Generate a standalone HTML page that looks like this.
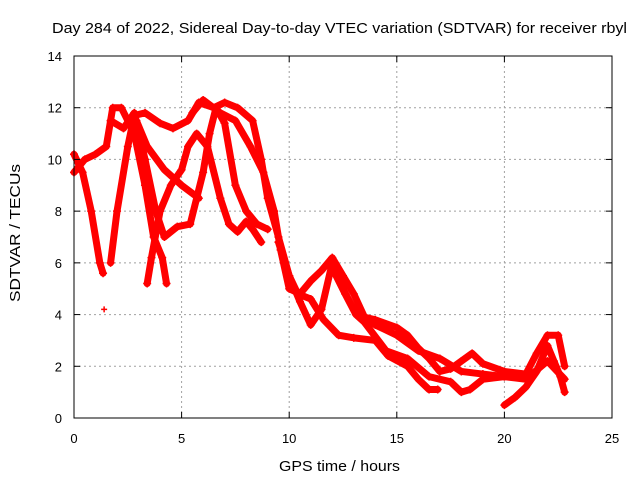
<!DOCTYPE html>
<html><head><meta charset="utf-8"><style>
body{margin:0;background:#fff}
svg{display:block;font-family:"Liberation Sans",sans-serif}
</style></head><body>
<svg id="chart" width="640" height="480" viewBox="0 0 640 480">
<rect width="640" height="480" fill="#fff"/>
<g id="grid"></g>
<g id="series"></g>
<rect x="74" y="56" width="538" height="362" fill="none" stroke="#000" stroke-width="1"/>
<g id="ticks"></g>
<text x="52" y="33" font-size="15" textLength="575" lengthAdjust="spacingAndGlyphs">Day 284 of 2022, Sidereal Day-to-day VTEC variation (SDTVAR) for receiver rbyl</text>
<text x="279" y="471" font-size="15" textLength="121" lengthAdjust="spacingAndGlyphs">GPS time / hours</text>
<text x="0" y="0" font-size="15" textLength="138" lengthAdjust="spacingAndGlyphs" transform="translate(20,302) rotate(-90)">SDTVAR / TECUs</text>
</svg>
<script>
const xTicks=[0,5,10,15,20,25];
const yTicks=[0,2,4,6,8,10,12,14];
const s1=[[0,10.2],[0.4,9.5],[0.8,8],[1.2,6],[1.35,5.6]];
const s2=[[1.7,6],[2.0,8],[2.5,10.5],[2.8,11.7],[3.3,11.8],[4,11.4],[4.6,11.2],[5.3,11.5],[5.8,12.2],[6.5,12],[7,12.2],[7.6,12],[8.3,11.5],[8.7,10],[9,8.5],[9.5,7],[10,5.5],[10.5,4.5],[11,3.6],[11.5,4.2],[12,6],[12.5,5],[13,4.2],[14,3.6],[15,3.2],[16,2.6],[17,2.3],[18,1.8],[19,1.7],[20,1.6],[21,1.5],[22,2.2],[22.8,1.5]];
const s3=[[0,9.5],[0.5,10],[1,10.2],[1.5,10.5],[1.8,12],[2.2,12],[2.8,11],[3.3,9],[3.7,7],[4.1,6.2],[4.3,5.2]];
const s4=[[1.7,11.5],[2.3,11.2],[2.8,11.8],[3.3,10],[3.8,8],[4.2,7],[4.8,7.4],[5.4,7.5],[6,9.5],[6.3,11],[6.6,12],[7,11.4],[7.5,9],[8,8],[8.5,7.5],[9,7.3]];
const s5=[[3.4,5.2],[3.6,6.2],[4,8],[4.5,9],[5,9.6],[5.3,10.5],[5.7,11],[6.2,10.5],[6.8,8.5],[7.2,7.5],[7.6,7.2],[8,7.6],[8.3,7.3],[8.7,6.8]];
const s6=[[2.9,11.5],[3.4,10.5],[4.2,9.6],[5.0,9],[5.8,8.5]];
const s7=[[5.5,11.8],[6,12.3],[6.8,11.8],[7.5,11.5],[8.2,10.5],[8.8,9.5],[9.3,8],[9.6,6.5],[10,5],[10.5,4.8],[11,5.3],[11.5,5.7],[12,6.2],[12.5,5.5],[13,4.8],[13.5,3.9],[14,3.8],[15,3.5],[15.5,3.2],[16,2.7],[16.5,2.3],[17,1.8],[17.5,1.9],[18,2.2],[18.5,2.5],[19,2.1],[20,1.8],[21,1.7],[21.5,2.5],[22,3.2],[22.5,3.2],[22.8,2]];
const s8=[[9.5,6.8],[10,5.5],[10.4,4.8],[11,4.6],[11.6,3.8],[12.3,3.2],[13,3.1],[14,3],[14.6,2.4],[15.5,2],[16,1.5],[16.5,1.1],[16.9,1.1]];
const s9=[[12,5.8],[12.6,4.8],[13.1,4],[13.5,3.7],[14.5,2.6],[15.5,2.3],[16.5,1.6],[17.5,1.4],[18,1.0],[18.4,1.1],[19,1.5],[20,1.6]];
const s10=[[20,0.5],[20.5,0.8],[21,1.2],[21.5,1.8],[22,2.8],[22.3,2.2],[22.6,1.6],[22.8,1]];
const outliers=[[1.4,4.2]];
const allSeries=[s1,s2,s3,s4,s5,s6,s7,s8,s9,s10];
const NS="http://www.w3.org/2000/svg";
const X0=74,X1=612,Y0=418,Y1=56;
function sx(v){return X0+(v-0)/(25-0)*(X1-X0);}
function sy(v){return Y0-(v-0)/(14-0)*(Y0-Y1);}
function mk(t,a,p){const e=document.createElementNS(NS,t);for(const k in a)e.setAttribute(k,a[k]);p.appendChild(e);return e;}
const grid=document.getElementById('grid'),ticks=document.getElementById('ticks'),ser=document.getElementById('series');
xTicks.forEach(t=>{
  const x=sx(t);
  if(t>0&&t<25){const l=mk('line',{x1:x,x2:x,y1:Y1,y2:Y0,stroke:'#a0a0a0','stroke-dasharray':'2,3'},grid);
  
  }
  mk('line',{x1:x,x2:x,y1:Y0,y2:Y0-6,stroke:'#000'},ticks);
  mk('line',{x1:x,x2:x,y1:Y1,y2:Y1+6,stroke:'#000'},ticks);
  const tx=mk('text',{x:x,y:443,'font-size':13,'text-anchor':'middle'},ticks);tx.textContent=t;
  
  
});
yTicks.forEach(t=>{
  const y=sy(t);
  if(t>0&&t<14){const l=mk('line',{x1:X0,x2:X1,y1:y,y2:y,stroke:'#a0a0a0','stroke-dasharray':'2,3'},grid);
  
  }
  mk('line',{x1:X0,x2:X0+6,y1:y,y2:y,stroke:'#000'},ticks);
  mk('line',{x1:X1,x2:X1-6,y1:y,y2:y,stroke:'#000'},ticks);
  const tx=mk('text',{x:62,y:y+5,'font-size':13,'text-anchor':'end'},ticks);tx.textContent=t;
  
  
});
allSeries.forEach((s,i)=>{
  const pl=mk('polyline',{points:s.map(p=>sx(p[0])+','+sy(p[1])).join(' '),fill:'none',stroke:'#f00','stroke-width':7,'stroke-linejoin':'round','stroke-linecap':'round'},ser);
  
  
  s.forEach(p=>{
    const g=mk('path',{d:`M${sx(p[0])-4},${sy(p[1])}h8M${sx(p[0])},${sy(p[1])-4}v8`,stroke:'#f00','stroke-width':1.5},ser);
    
    
  });
});
outliers.forEach(p=>{
  const g=mk('path',{d:`M${sx(p[0])-3},${sy(p[1])}h6M${sx(p[0])},${sy(p[1])-3}v6`,stroke:'#f00','stroke-width':1.5},ser);
  
  
});
</script>
</body></html>
